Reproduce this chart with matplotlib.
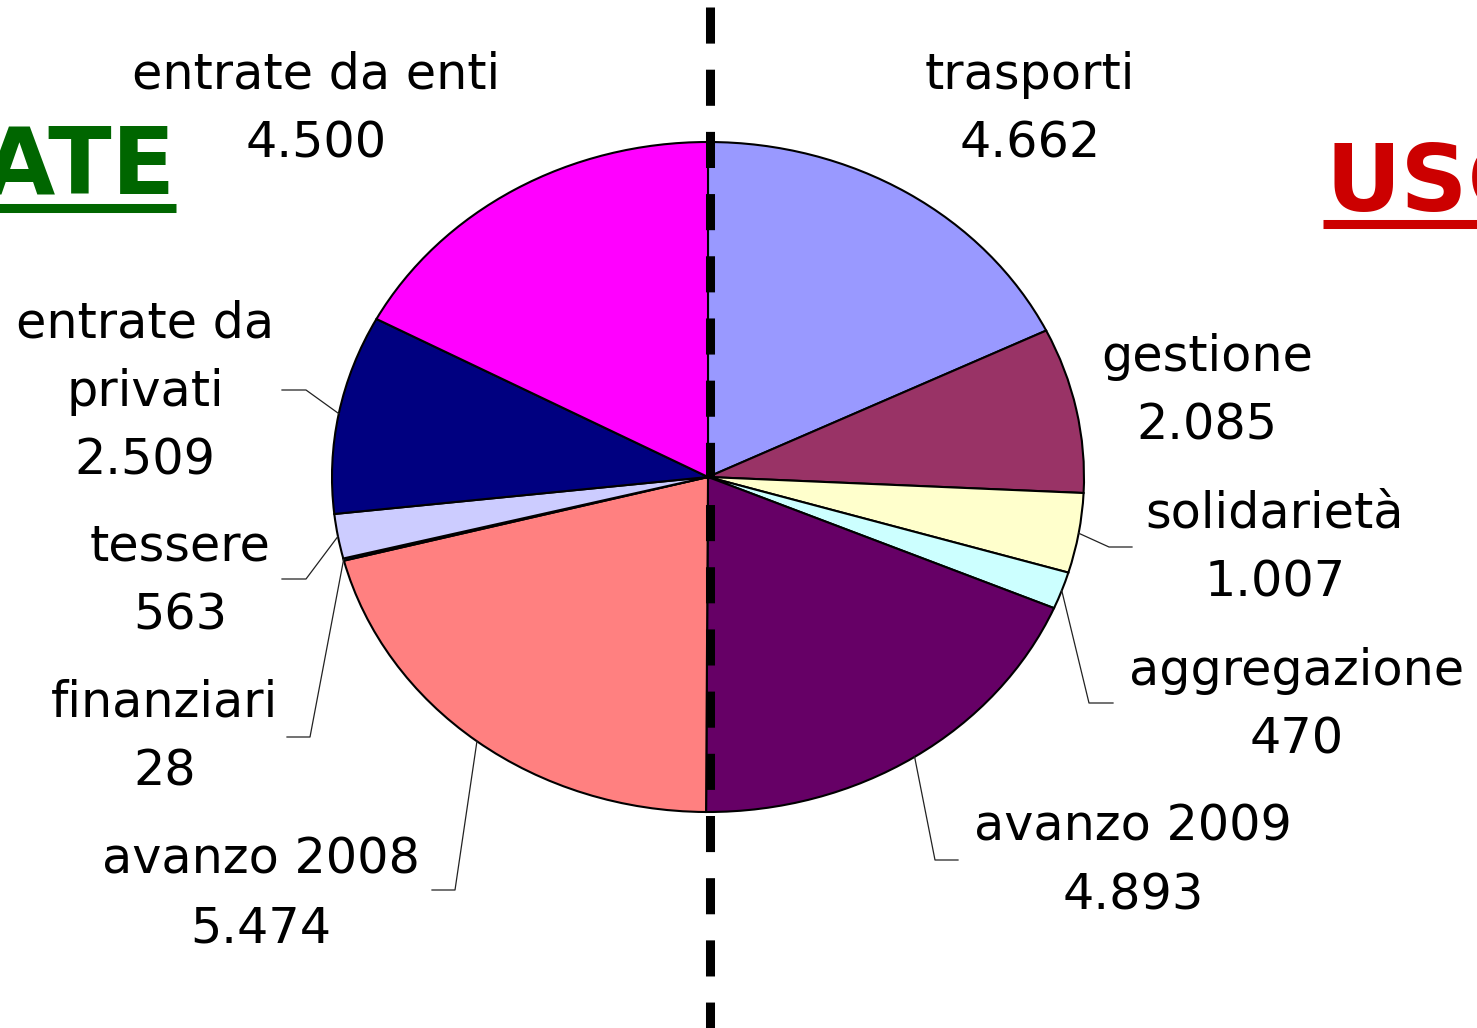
import numpy as np
import matplotlib
matplotlib.use("Agg")
import matplotlib.pyplot as plt

# ---- data ----
categories = ["trasporti", "gestione", "solidarietà", "aggregazione", "avanzo 2009",
              "avanzo 2008", "finanziari", "tessere", "entrate da\nprivati", "entrate da enti"]
values = [4662, 2085, 1007, 470, 4893, 5474, 28, 563, 2509, 4500]
colors = ["#9999FF", "#993366", "#FFFFCC", "#CCFFFF", "#660066",
          "#FF8080", "#0066CC", "#CCCCFF", "#000080", "#FF00FF"]
title_left = "ENTRATE"
title_right = "USCITE"

# ---- layout (pixels) ----
W, H = 1477, 1028
CX, CY, RX, RY = 708, 477, 376, 335

def P(x, y):
    return ((x - CX) / RX, (CY - y) / RY)

label_pos = {
    "trasporti": (1030, 109),
    "gestione": (1207, 391),
    "solidarietà": (1275, 548),
    "aggregazione": (1297, 705),
    "avanzo 2009": (1133, 861),
    "avanzo 2008": (261, 894),
    "finanziari": (165, 737),
    "tessere": (180, 581),
    "entrate da\nprivati": (145, 392),
    "entrate da enti": (316, 109),
}
leaders = {
    "entrate da\nprivati": [(306, 390), (282, 390)],
    "tessere": [(306, 579), (282, 579)],
    "finanziari": [(310, 737), (287, 737)],
    "avanzo 2008": [(455, 890), (432, 890)],
    "solidarietà": [(1109, 547), (1132, 547)],
    "aggregazione": [(1089, 703), (1113, 703)],
    "avanzo 2009": [(935, 860), (958, 860)],
}

def fmt(v):
    return f"{v:,}".replace(",", ".")

fig = plt.figure(figsize=(W / 100, H / 100), dpi=100)
ax = fig.add_axes([0, 0, 1, 1])
wedges, _ = ax.pie(values, colors=colors, startangle=90, counterclock=False,
                   radius=1, center=(0, 0),
                   wedgeprops=dict(edgecolor="black", linewidth=1.5))
ax.set_aspect("auto")
ax.set_xlim(-CX / RX, (W - CX) / RX)
ax.set_ylim(-(H - CY) / RY, CY / RY)
ax.axis("off")

FS = 35.5
for cat, val, w in zip(categories, values, wedges):
    x, y = P(*label_pos[cat])
    ax.text(x, y, f"{cat}\n{fmt(val)}", ha="center", va="center",
            multialignment="center", fontsize=FS, family="DejaVu Sans",
            linespacing=1.55, color="black")
    if cat in leaders:
        mid = np.deg2rad((w.theta1 + w.theta2) / 2)
        pts = [(np.cos(mid), np.sin(mid))] + [P(*p) for p in leaders[cat]]
        xs, ys = zip(*pts)
        ax.plot(xs, ys, color="#222222", lw=0.9, zorder=3)

# dashed divider
x0, y0 = P(709.5, 7)
_, y1 = P(709.5, H + 5)
ax.plot([x0, x0], [y0, y1], color="black", lw=6.5, dashes=(36 / 9, 26 / 9),
        dash_capstyle="butt", zorder=4)

# titles
tx, ty = P(176, 193)
ax.text(tx, ty, title_left, ha="right", va="baseline", fontsize=67,
        fontweight="bold", color="#006600", family="DejaVu Sans")
a, b = P(-60, 207.5); c, _ = P(176, 207.5)
ax.plot([a, c], [b, b], color="#006600", lw=6.5, solid_capstyle="butt")

tx, ty = P(1326, 211)
ax.text(tx, ty, title_right, ha="left", va="baseline", fontsize=67,
        fontweight="bold", color="#CC0000", family="DejaVu Sans")
a, b = P(1323, 223.5); c, _ = P(1600, 223.5)
ax.plot([a, c], [b, b], color="#CC0000", lw=6.5, solid_capstyle="butt")

fig.savefig("out.png", dpi=100)
